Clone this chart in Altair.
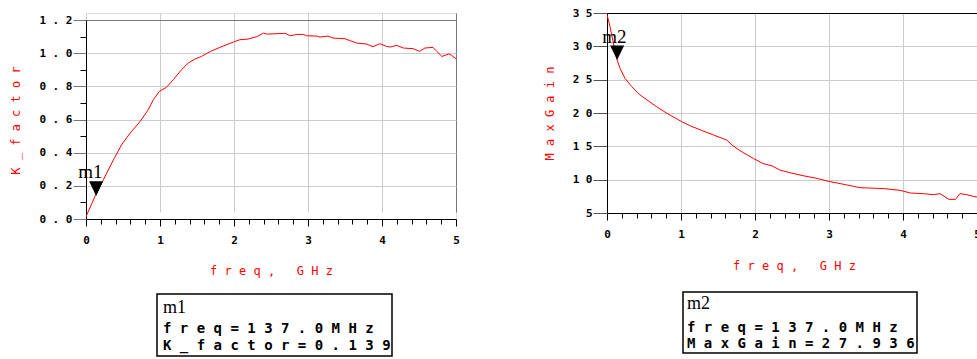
import altair as alt
import pandas as pd

# ---------------- data ----------------
k_freq = [0.0, 0.12, 0.234, 0.37, 0.48, 0.595, 0.73, 0.84, 0.91, 0.99, 1.09, 1.18, 1.29, 1.38,
          1.47, 1.56, 1.68, 1.81, 1.99, 2.08, 2.19, 2.31, 2.40, 2.44, 2.67, 2.69, 2.76, 2.85,
          2.94, 2.98, 3.12, 3.16, 3.27, 3.34, 3.50, 3.57, 3.66, 3.79, 3.88, 3.97, 4.06, 4.11,
          4.20, 4.29, 4.42, 4.51, 4.58, 4.69, 4.74, 4.81, 4.90, 4.94, 5.0]
k_vals = [0.014, 0.135, 0.236, 0.356, 0.447, 0.517, 0.588, 0.658, 0.719, 0.769, 0.795, 0.840,
          0.900, 0.940, 0.964, 0.980, 1.010, 1.035, 1.067, 1.081, 1.085, 1.100, 1.121, 1.115,
          1.119, 1.120, 1.105, 1.113, 1.113, 1.105, 1.103, 1.097, 1.103, 1.091, 1.087, 1.075,
          1.061, 1.055, 1.039, 1.057, 1.041, 1.037, 1.047, 1.031, 1.027, 1.011, 1.031, 1.035,
          1.011, 0.980, 0.995, 0.987, 0.966]

g_freq = [0.0, 0.04, 0.086, 0.137, 0.176, 0.243, 0.334, 0.42, 0.54, 0.67, 0.81, 1.01, 1.12,
          1.30, 1.44, 1.62, 1.69, 1.80, 1.98, 2.11, 2.23, 2.34, 2.48, 2.66, 2.81, 2.99, 3.20,
          3.42, 3.74, 3.96, 4.10, 4.28, 4.41, 4.50, 4.62, 4.71, 4.77, 4.86, 4.95, 5.0]
g_vals = [34.75, 33.0, 30.5, 27.94, 26.7, 25.2, 23.96, 22.96, 21.95, 20.95, 19.95, 18.7, 18.1,
          17.3, 16.7, 15.93, 15.18, 14.33, 13.17, 12.42, 12.07, 11.42, 11.02, 10.57, 10.26,
          9.76, 9.3, 8.8, 8.66, 8.4, 8.0, 7.9, 7.75, 7.9, 7.05, 7.05, 7.9, 7.75, 7.5, 7.4]

marker_freq = 0.137
m1_value = 0.139
m2_value = 27.936

x_ticks = [round(i * 0.2, 1) for i in range(26)]
k_ticks = [round(i * 0.1, 1) for i in range(13)]
g_ticks = [5, 10, 15, 20, 25, 30, 35]

m1_lines = ["m1", "freq=137.0MHz", "K_factor=0.139"]
m2_lines = ["m2", "freq=137.0MHz", "MaxGain=27.936"]

# ---------------- styling ----------------
MONO = "DejaVu Sans Mono"
SERIF = "Liberation Serif"
RED = "#ff0000"
GRID = "#cccccc"
EDGE = "#777777"


def spaced(s):
    return " ".join("\u00a0" if c == " " else c for c in s)


SPACED_LABEL = "join(split(datum.label, ''), ' ')"
IS_INT = "abs(datum.value - round(datum.value)) < 0.001"
IS_EVEN_TENTH = "round(datum.value * 10) % 2 == 0"

one = alt.Data(values=[{"a": 1}])


def x_axis(edge_color, title_x, title_y):
    return alt.Axis(
        values=x_ticks, tickCount=60,
        labelExpr=f"{IS_INT} ? format(datum.value, 'd') : ''",
        labelOverlap=False, labelFlush=False,
        labelFont=MONO, labelFontSize=11, labelFontWeight="bold", labelColor="black",
        labelPadding=8,
        tickSize={"condition": {"test": IS_INT, "value": 7}, "value": 5},
        tickColor="black", tickWidth=1,
        domainColor="black", domainWidth=1,
        grid=True,
        gridOpacity={"condition": {"test": IS_INT, "value": 1}, "value": 0},
        gridColor={"condition": {"test": "datum.value > 4.99", "value": edge_color}, "value": GRID},
        title=spaced("freq, GHz"), titleFont=MONO, titleFontSize=12, titleFontWeight="normal",
        titleColor=RED, titleX=title_x, titleY=title_y, titleAlign="center",
        titleBaseline="middle", titleAngle=0,
    )


def box_layers(lines, bx, by, bw, bh, tx, baselines):
    rect = alt.Chart(one).mark_rect(filled=False, stroke="black", strokeWidth=1.5).encode(
        x=alt.value(bx), x2=alt.value(bx + bw), y=alt.value(by), y2=alt.value(by + bh))
    layers = [rect]
    head = alt.Chart(one).mark_text(text=lines[0], align="left", baseline="alphabetic",
                                    font=SERIF, fontSize=18, color="black").encode(
        x=alt.value(tx), y=alt.value(baselines[0]))
    layers.append(head)
    for line, b in zip(lines[1:], baselines[1:]):
        layers.append(alt.Chart(one).mark_text(text=spaced(line), align="left",
                                               baseline="alphabetic", font=MONO, fontSize=14,
                                               fontWeight="bold", color="black").encode(
            x=alt.value(tx), y=alt.value(b)))
    return layers


TRI = "M-1,-2.1L1,-2.1L0,0Z"

# ---------------- left panel: K_factor ----------------
k_df = pd.DataFrame({"freq": k_freq, "K_factor": k_vals})
m1_df = pd.DataFrame({"freq": [marker_freq], "K_factor": [m1_value], "name": ["m1"]})

kx = alt.X("freq:Q", scale=alt.Scale(domain=[0, 5], nice=False, zero=False),
           axis=x_axis(EDGE, 185, 51))
ky = alt.Y("K_factor:Q", scale=alt.Scale(domain=[0, 1.2], nice=False, range=[206, 7]),
           axis=alt.Axis(
               values=k_ticks, tickCount=60, format=".1f",
               labelExpr=f"{IS_EVEN_TENTH} ? {SPACED_LABEL} : ''",
               labelOverlap=False, labelFlush=False,
               labelFont=MONO, labelFontSize=11, labelFontWeight="bold", labelColor="black",
               labelPadding=1,
               tickSize={"condition": {"test": IS_EVEN_TENTH, "value": 13}, "value": 6},
               tickColor={"condition": {"test": IS_EVEN_TENTH, "value": EDGE}, "value": "black"},
               domainColor="black",
               grid=True,
               gridOpacity={"condition": {"test": IS_EVEN_TENTH, "value": 1}, "value": 0},
               gridColor={"condition": {"test": "datum.value > 1.15", "value": EDGE}, "value": GRID},
               title=spaced("K_factor"), titleFont=MONO, titleFontSize=12,
               titleFontWeight="normal", titleColor=RED, titleX=-71, titleY=107,
               titleAngle=270, titleAlign="center", titleBaseline="middle",
           ))

k_line = alt.Chart(k_df).mark_line(color=RED, strokeWidth=1, clip=True).encode(x=kx, y=ky)
m1_tri = alt.Chart(m1_df).mark_point(shape=TRI, size=196, filled=True, color="black",
                                     opacity=1).encode(x=kx, y=ky)
m1_txt = alt.Chart(m1_df).mark_text(align="left", baseline="alphabetic", font=SERIF,
                                    fontSize=19, dx=-18, dy=-18, color="black").encode(
    x=kx, y=ky, text="name:N")

left = alt.layer(k_line, m1_tri, m1_txt,
                 *box_layers(m1_lines, 71, 281, 235, 62, 77, [300, 320, 337])).properties(
    width=370, height=206)

# ---------------- right panel: MaxGain ----------------
g_df = pd.DataFrame({"freq": g_freq, "MaxGain": g_vals})
m2_df = pd.DataFrame({"freq": [marker_freq], "MaxGain": [m2_value], "name": ["m2"]})

gx = alt.X("freq:Q", scale=alt.Scale(domain=[0, 5], nice=False, zero=False),
           axis=x_axis(EDGE, 187, 52))
gy = alt.Y("MaxGain:Q", scale=alt.Scale(domain=[5, 35], nice=False, zero=False),
           axis=alt.Axis(
               values=g_ticks, tickCount=60, format="d",
               labelExpr=SPACED_LABEL,
               labelOverlap=False, labelFlush=False,
               labelFont=MONO, labelFontSize=11, labelFontWeight="bold", labelColor="black",
               labelPadding=1,
               tickSize=14, tickColor="#555555",
               domainColor="black",
               grid=True,
               gridColor={"condition": {"test": "datum.value > 34.9", "value": "black"}, "value": GRID},
               title=spaced("MaxGain"), titleFont=MONO, titleFontSize=12,
               titleFontWeight="normal", titleColor=RED, titleX=-58, titleY=100,
               titleAngle=270, titleAlign="center", titleBaseline="middle",
           ))

g_line = alt.Chart(g_df).mark_line(color=RED, strokeWidth=1, clip=True).encode(x=gx, y=gy)
m2_tri = alt.Chart(m2_df).mark_point(shape=TRI, size=196, filled=True, color="black",
                                     opacity=1).encode(x=gx, y=gy)
m2_txt = alt.Chart(m2_df).mark_text(align="left", baseline="alphabetic", font=SERIF,
                                    fontSize=19, dx=-15, dy=-17, color="black").encode(
    x=gx, y=gy, text="name:N")

right = alt.layer(g_line, m2_tri, m2_txt,
                  *box_layers(m2_lines, 76, 279, 234, 61, 80, [296, 319, 335])).properties(
    width=370, height=200)

chart = alt.hconcat(left, right, spacing=151, bounds="flush").properties(
    autosize=alt.AutoSizeParams(type="none"),
    padding={"left": 86, "top": 13, "right": 891, "bottom": 346},
).configure_view(stroke="transparent").configure(background="white")

chart.save("out.html", embed_options={"renderer": "svg", "actions": False})
